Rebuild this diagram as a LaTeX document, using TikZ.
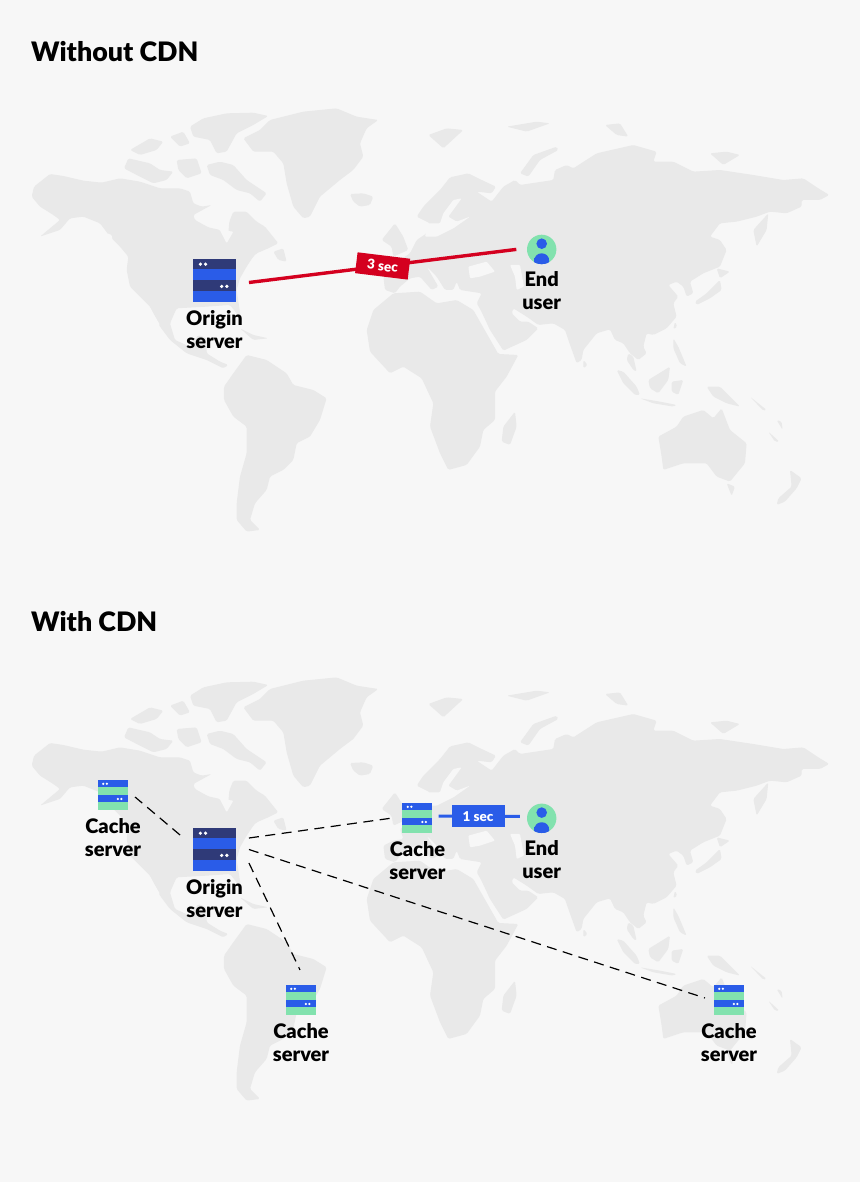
\documentclass[tikz,border=0pt]{standalone}
\usepackage{fontspec}
\setmainfont{Lato}[BoldFont={Lato Black}]
\usetikzlibrary{positioning, calc}

\definecolor{pagebg}{HTML}{F7F7F7}
\definecolor{landgray}{HTML}{E9E9E9}
\definecolor{srvnavy}{HTML}{2F3A78}
\definecolor{srvblue}{HTML}{2A5CE8}
\definecolor{srvgreen}{HTML}{82E2AE}
\definecolor{lagred}{HTML}{D4001F}

\newcommand{\landmasses}{%
  \begin{scope}[shift={(20,90)}, scale=0.3333]
    % americas and arctic
    \fill[land] (35,320) -- (42,290) -- (90,252) -- (130,258) -- (190,272) -- (245,278) -- (300,265) -- (360,275) -- (420,295) -- (480,295) -- (510,305) -- (520,340) -- (545,350) -- (575,345) -- (520,375) -- (525,390) -- (565,412) -- (600,420) -- (610,440) -- (625,430) -- (628,395) -- (640,365) -- (680,365) -- (710,395) -- (735,410) -- (775,460) -- (745,475) -- (710,490) -- (700,500) -- (680,530) -- (660,565) -- (650,600) -- (665,700) -- (650,670) -- (630,645) -- (560,650) -- (470,655) -- (450,700) -- (465,750) -- (510,770) -- (535,735) -- (560,745) -- (560,790) -- (600,815) -- (625,825) -- (610,835) -- (560,810) -- (500,790) -- (450,750) -- (420,710) -- (390,650) -- (370,630) -- (330,590) -- (320,540) -- (325,500) -- (300,470) -- (270,440) -- (240,400) -- (190,380) -- (150,385) -- (120,420) -- (60,440) -- (120,390) -- (100,375) -- (60,350) -- cycle;
    \fill[land] (612,890) -- (640,850) -- (680,795) -- (740,810) -- (800,850) -- (820,885) -- (880,900) -- (920,925) -- (900,990) -- (870,1040) -- (830,1060) -- (820,1110) -- (790,1140) -- (750,1160) -- (740,1200) -- (705,1240) -- (690,1290) -- (720,1320) -- (680,1325) -- (650,1290) -- (650,1240) -- (660,1160) -- (680,1090) -- (680,1010) -- (640,980) -- (612,930) -- cycle;
    \fill[land] (670,145) -- (720,120) -- (750,90) -- (850,65) -- (950,55) -- (1010,80) -- (1075,90) -- (1040,115) -- (1020,160) -- (1030,200) -- (1000,240) -- (960,270) -- (900,320) -- (870,380) -- (850,385) -- (820,350) -- (800,280) -- (790,220) -- (760,185) -- (700,185) -- cycle;
    \fill[land] (990,312) -- (1030,310) -- (1060,320) -- (1050,345) -- (1020,350) -- (1000,335) -- cycle;
    \fill[land] (510,110) -- (550,85) -- (620,70) -- (700,68) -- (745,78) -- (700,105) -- (650,130) -- (620,185) -- (590,190) -- (570,150) -- (520,140) -- cycle;
    \fill[land] (560,225) -- (600,215) -- (640,225) -- (680,270) -- (740,310) -- (720,335) -- (690,310) -- (650,300) -- (610,270) -- (570,255) -- cycle;
    \fill[land] (312,235) -- (325,205) -- (390,220) -- (420,240) -- (460,245) -- (440,270) -- (400,280) -- (350,255) -- cycle;
    \fill[land] (330,180) -- (390,145) -- (430,155) -- (410,180) -- (360,195) -- cycle;
    \fill[land] (450,140) -- (490,125) -- (510,160) -- (480,170) -- cycle;
    \fill[land] (470,210) -- (530,205) -- (545,250) -- (500,265) -- (475,240) -- cycle;
    \fill[land] (760,485) -- (790,475) -- (800,515) -- (775,510) -- cycle;
    \fill[land] (660,715) -- (700,735) -- (745,745) -- (700,750) -- cycle;
    \fill[land] (1085,450) -- (1125,400) -- (1150,440) -- (1165,480) -- (1120,500) -- (1115,470) -- cycle;
    \fill[sea] (385,645) -- (420,705) -- (410,712) -- (380,665) -- cycle;
    \fill[sea] (262,430) -- (275,435) -- (280,465) -- (268,460) -- cycle;
    \fill[sea] (600,420) -- (640,425) -- (620,460) -- cycle;
  \end{scope}
  \begin{scope}[shift={(420,90)}, scale=0.3333]
    % eurasia and africa
    \fill[land] (-105,600) -- (-110,560) -- (-80,545) -- (-50,540) -- (-60,510) -- (-30,490) -- (-10,450) -- (20,430) -- (30,400) -- (-10,380) -- (10,350) -- (60,300) -- (90,262) -- (145,250) -- (185,270) -- (228,290) -- (215,310) -- (170,305) -- (215,335) -- (250,290) -- (285,270) -- (300,285) -- (400,270) -- (405,240) -- (440,225) -- (460,235) -- (530,190) -- (640,165) -- (710,185) -- (700,215) -- (760,215) -- (820,245) -- (900,240) -- (1000,255) -- (1090,270) -- (1150,265) -- (1195,295) -- (1228,315) -- (1200,330) -- (1145,330) -- (1145,350) -- (1100,370) -- (1050,365) -- (1010,380) -- (950,395) -- (900,400) -- (870,440) -- (900,450) -- (920,480) -- (900,530) -- (850,550) -- (810,575) -- (820,610) -- (800,620) -- (790,590) -- (770,575) -- (745,585) -- (775,620) -- (760,640) -- (770,680) -- (740,715) -- (700,735) -- (680,730) -- (670,770) -- (680,790) -- (655,810) -- (630,790) -- (610,760) -- (585,750) -- (570,718) -- (530,730) -- (490,780) -- (485,810) -- (470,820) -- (445,750) -- (435,720) -- (400,700) -- (355,705) -- (320,680) -- (280,655) -- (275,670) -- (300,695) -- (325,695) -- (355,715) -- (320,750) -- (250,782) -- (210,720) -- (182,660) -- (170,640) -- (185,610) -- (120,600) -- (110,575) -- (100,600) -- (75,600) -- (50,560) -- (20,530) -- (55,590) -- (35,600) -- (0,560) -- (-30,565) -- (-60,590) -- (-75,610) -- cycle;
    \fill[land] (-160,720) -- (-140,660) -- (-80,610) -- (0,605) -- (50,640) -- (110,630) -- (160,660) -- (235,792) -- (295,795) -- (260,860) -- (225,905) -- (225,990) -- (190,1020) -- (180,1070) -- (140,1125) -- (85,1140) -- (60,1090) -- (30,1010) -- (40,940) -- (5,865) -- (-50,830) -- (-90,850) -- (-150,785) -- cycle;
    \fill[sea] (145,530) -- (200,515) -- (225,545) -- (180,560) -- (150,565) -- cycle;
    \fill[sea] (270,525) -- (300,525) -- (312,590) -- (290,600) -- (285,560) -- cycle;
    \fill[sea] (70,370) -- (100,330) -- (125,325) -- (85,380) -- (110,395) -- (150,380) -- (100,415) -- (50,440) -- (15,440) -- (25,400) -- (60,400) -- cycle;
    \fill[land] (285,965) -- (290,1010) -- (270,1065) -- (245,1055) -- (250,1010) -- cycle;
    \fill[land] (490,810) -- (503,825) -- (490,835) -- cycle;
    \fill[land] (625,790) -- (640,800) -- (650,845) -- (640,840) -- (620,810) -- cycle;
    \fill[land] (590,840) -- (610,845) -- (650,890) -- (660,915) -- (645,915) -- (610,880) -- cycle;
    \fill[land] (660,925) -- (720,935) -- (770,945) -- (760,950) -- (700,940) -- cycle;
    \fill[land] (685,870) -- (750,830) -- (745,870) -- (715,910) -- (690,895) -- cycle;
    \fill[land] (755,875) -- (790,870) -- (775,915) -- (755,905) -- cycle;
    \fill[land] (760,745) -- (775,770) -- (800,830) -- (780,820) -- (760,775) -- cycle;
    \fill[land] (765,695) -- (772,710) -- (760,718) -- cycle;
    \fill[land] (860,890) -- (900,890) -- (960,950) -- (920,940) -- (880,920) -- cycle;
    \fill[land] (825,635) -- (860,610) -- (900,570) -- (905,600) -- (870,625) -- (830,645) -- cycle;
    \fill[land] (890,535) -- (930,545) -- (900,565) -- cycle;
    \fill[land] (1000,420) -- (1045,370) -- (1040,420) -- (1010,470) -- cycle;
    \fill[land] (715,1040) -- (770,1010) -- (790,980) -- (850,960) -- (880,985) -- (905,955) -- (930,1020) -- (980,1060) -- (975,1120) -- (930,1175) -- (890,1160) -- (860,1120) -- (790,1120) -- (730,1140) -- (725,1100) -- cycle;
    \fill[land] (920,1180) -- (945,1190) -- (935,1218) -- cycle;
    \fill[land] (1110,1140) -- (1145,1165) -- (1130,1195) -- (1095,1235) -- (1070,1245) -- (1075,1225) -- (1115,1190) -- cycle;
    \fill[land] (300,250) -- (340,195) -- (410,170) -- (415,180) -- (360,210) -- (325,260) -- cycle;
    \fill[land] (25,135) -- (80,115) -- (130,120) -- (70,175) -- cycle;
    \fill[land] (260,110) -- (350,95) -- (390,100) -- (320,125) -- cycle;
    \fill[land] (555,105) -- (600,100) -- (625,140) -- (590,135) -- cycle;
    \fill[land] (870,190) -- (920,185) -- (960,195) -- (910,225) -- cycle;
    \fill[land] (990,920) -- (1040,960) -- (1030,962) -- cycle;
    \fill[land] (1070,990) -- (1085,995) -- (1088,1020) -- cycle;
    \fill[land] (1045,1025) -- (1078,1055) -- (1065,1055) -- cycle;
  \end{scope}}

% stripes and status dots laid over a server node
\newcommand{\srvbands}[4]{%
  \begin{scope}[shift={(#1.north west)}, x=#2pt, y=-#2pt]
    \fill[#3] (0,0) rectangle (10,2.5);
    \fill[#4] (0,2.5) rectangle (10,5);
    \fill[#3] (0,5) rectangle (10,7.5);
    \fill[#4] (0,7.5) rectangle (10,10);
    \fill[white] (1.8,1.3) circle (0.42) (3,1.3) circle (0.42);
    \fill[white] (6.7,6.4) circle (0.42) (7.9,6.4) circle (0.42);
  \end{scope}}
\newcommand{\originbands}[1]{\srvbands{#1}{4.35}{srvnavy}{srvblue}}
\newcommand{\cachebands}[1]{\srvbands{#1}{2.97}{srvblue}{srvgreen}}

\begin{document}
\begin{tikzpicture}[
    x=1pt, y=-1pt,
    land/.style={landgray, rounded corners=1.5pt},
    sea/.style={pagebg, rounded corners=1pt},
    originsrv/.style={rectangle, inner sep=0pt, minimum size=43.5pt},
    cachesrv/.style={rectangle, inner sep=0pt, minimum size=29.7pt},
    usericon/.style={circle, inner sep=0pt, minimum size=29.4pt, fill=srvgreen,
      path picture={
        \fill[srvblue] ([yshift=5.7pt]path picture bounding box.center) circle (5.3pt);
        \fill[srvblue, rounded corners=6.8pt] ([xshift=-7.3pt,yshift=-4pt]path picture bounding box.center)
          rectangle ([xshift=7.3pt,yshift=-30pt]path picture bounding box.center);
        \fill[srvblue] ([xshift=-7.3pt,yshift=-9pt]path picture bounding box.center)
          rectangle ([xshift=7.3pt,yshift=-16pt]path picture bounding box.center);}},
    caption/.style={font=\fontsize{20}{23}\selectfont\bfseries, align=center, text=black, inner sep=0pt},
    heading/.style={font=\fontsize{26.8}{30}\selectfont\bfseries, text=black, inner sep=0pt, anchor=base west},
    link/.style={black, line width=1.2pt, dash pattern=on 10pt off 6.5pt},
    lagline/.style={lagred, line width=3.4pt},
    fastline/.style={srvblue, line width=3pt},
    lagtag/.style={fill=lagred, text=white, inner sep=0pt, minimum width=53pt, minimum height=21pt,
      font=\fontsize{13.5}{15}\selectfont\bfseries, rotate=-7},
    fasttag/.style={fill=srvblue, text=white, inner sep=0pt, minimum width=53pt, minimum height=22pt,
      font=\fontsize{13.5}{15}\selectfont\bfseries}
  ]
  \useasboundingbox (0,0) rectangle (860,1182);
  \fill[pagebg] (0,0) rectangle (860,1182);

  \landmasses
  \begin{scope}[shift={(0,569)}]
    \landmasses
  \end{scope}

  % without cdn
  \node[heading] (withouttitle) at (31,62) {Without CDN};
  \node[originsrv] (origintop) at (214.5,280.5) {};
  \originbands{origintop}
  \node[caption, below=8pt of origintop] (origintoplbl) {Origin\\server};
  \node[usericon] (usertop) at (541.7,249.4) {};
  \node[caption, below=7pt of usertop] (usertoplbl) {End\\user};
  \draw[lagline] ($(origintop.east)+(12.5,2)$) -- ($(usertop.west)+(-10.5,0)$)
    node[midway, lagtag] (lagbox) {3 sec};

  % with cdn
  \node[heading] (withtitle) at (31,631) {With CDN};
  \node[originsrv] (originlow) at (214.5,849.5) {};
  \originbands{originlow}
  \node[caption, below=8pt of originlow] (originlowlbl) {Origin\\server};
  \node[cachesrv] (cachena) at (113,795) {};
  \cachebands{cachena}
  \node[caption, below=8pt of cachena] (cachenalbl) {Cache\\server};
  \node[cachesrv] (cacheeu) at (417.5,818) {};
  \cachebands{cacheeu}
  \node[caption, below=8pt of cacheeu] (cacheeulbl) {Cache\\server};
  \node[cachesrv] (cachesa) at (301,1000) {};
  \cachebands{cachesa}
  \node[caption, below=8pt of cachesa] (cachesalbl) {Cache\\server};
  \node[cachesrv] (cacheau) at (729,1000) {};
  \cachebands{cacheau}
  \node[caption, below=8pt of cacheau] (cacheaulbl) {Cache\\server};
  \node[usericon] (userlow) at (541.7,818.3) {};
  \node[caption, below=7pt of userlow] (userlowlbl) {End\\user};

  \draw[link] ($(originlow.west)+(-12.5,-14.5)$) -- ($(cachena.east)+(7,2)$);
  \draw[link] ($(originlow.east)+(12.5,-11.5)$) -- ($(cacheeu.west)+(-10,0)$);
  \draw[link] ($(originlow.east)+(12.5,0)$) -- ($(cacheau.west)+(-9,-2)$);
  \draw[link] ($(originlow.east)+(12.5,13.5)$) -- ($(cachesa.north)+(-1,-15)$);
  \draw[fastline] ($(cacheeu.east)+(6,-2)$) -- ($(userlow.west)+(-7,-2)$)
    node[pos=0.487, fasttag] (fastbox) {1 sec};
\end{tikzpicture}
\end{document}
